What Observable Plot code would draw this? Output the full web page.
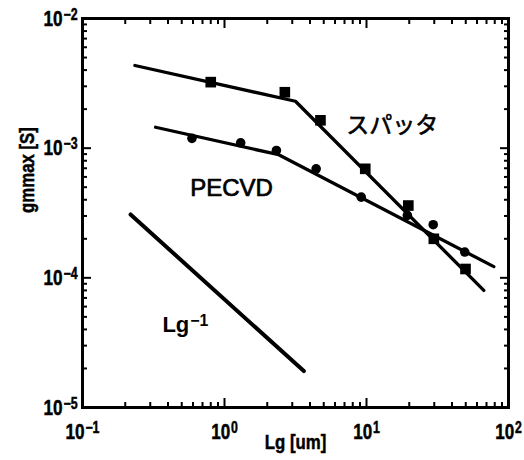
<!DOCTYPE html>
<html>
<head>
<meta charset="utf-8">
<script src="https://cdn.jsdelivr.net/npm/d3@7"></script>
<script src="https://cdn.jsdelivr.net/npm/@observablehq/plot@0.6"></script>
<style>
  html, body { margin: 0; padding: 0; background: #fff; }
</style>
</head>
<body>
<div id="chart"></div>
<script>
// ---- data ----
const sputterLg   = [0.8, 2.66, 4.74, 9.8, 19.7, 29.8, 49.8];
const sputterGm   = [3.23e-3, 2.70e-3, 1.64e-3, 6.93e-4, 3.61e-4, 2.0e-4, 1.17e-4];
const pecvdLg     = [0.59, 1.30, 2.32, 4.42, 9.18, 19.4, 29.5, 49.2];
const pecvdGm     = [1.19e-3, 1.10e-3, 9.6e-4, 6.93e-4, 4.19e-4, 3.03e-4, 2.57e-4, 1.58e-4];
const sputterFitLg = [0.234, 3.16, 67];
const sputterFitGm = [4.34e-3, 2.30e-3, 8.0e-5];
const pecvdFitLg   = [0.327, 2.41, 78.8];
const pecvdFitGm   = [1.45e-3, 8.9e-4, 1.22e-4];
const refLineLg    = [0.218, 3.62];
const refLineGm    = [3.08e-4, 1.91e-5];
const labelText = ["スパッタ", "PECVD", "Lg^-1"];
const labelLg   = [15.2, 1.12, 0.53];
const labelGm   = [1.50e-3, 4.89e-4, 4.30e-5];
const xMajor = [0.1, 1, 10, 100];
const xMajorLabels = ["10^-1", "10^0", "10^1", "10^2"];
const yMajor = [1e-5, 1e-4, 1e-3, 1e-2];
const yMajorLabels = ["10^-5", "10^-4", "10^-3", "10^-2"];
const minorMult = [2, 3, 4, 5, 6, 7, 8, 9];
const xMinor = [0.1, 1, 10].flatMap(d => minorMult.map(m => d * m));
const yMinor = [1e-5, 1e-4, 1e-3].flatMap(d => minorMult.map(m => d * m));

const zip = (xs, ys) => xs.map((x, i) => ({x, y: ys[i]}));
const sputter = zip(sputterLg, sputterGm);
const pecvd = zip(pecvdLg, pecvdGm);
const sputterFit = zip(sputterFitLg, sputterFitGm);
const pecvdFit = zip(pecvdFitLg, pecvdFitGm);
const refLine = zip(refLineLg, refLineGm);
const labels = labelText.map((t, i) => ({t, x: labelLg[i], y: labelGm[i]}));

const nearestIndex = (arr, d) => {
  let best = 0;
  arr.forEach((v, i) => { if (Math.abs(Math.log10(v) - Math.log10(d)) < Math.abs(Math.log10(arr[best]) - Math.log10(d))) best = i; });
  return best;
};
const xFmt = d => xMajorLabels[nearestIndex(xMajor, d)];
const yFmt = d => yMajorLabels[nearestIndex(yMajor, d)];

const axisFont = "'Liberation Sans', Arial, sans-serif";

const chart = Plot.plot({
  width: 524,
  height: 460,
  marginLeft: 82,
  marginRight: 16,
  marginTop: 18,
  marginBottom: 53,
  style: {background: "white", color: "black", fontFamily: axisFont, fontSize: "22px", fontWeight: "bold"},
  x: {type: "log", domain: [0.1, 100]},
  y: {type: "log", domain: [1e-5, 1e-2]},
  marks: [
    // axes (inward ticks)
    Plot.axisX({anchor: "bottom", ticks: xMajor, tickSize: -9, tickPadding: 25, strokeWidth: 2,
      tickFormat: xFmt, label: null}),
    Plot.axisX({anchor: "bottom", ticks: xMinor, tickSize: -5, strokeWidth: 2, fill: "none", label: null}),
    Plot.axisX({anchor: "top", ticks: xMajor, tickSize: -9, strokeWidth: 2, fill: "none", label: null}),
    Plot.axisX({anchor: "top", ticks: xMinor, tickSize: -5, strokeWidth: 2, fill: "none", label: null}),
    Plot.axisY({anchor: "left", ticks: yMajor, tickSize: -9, tickPadding: 14, strokeWidth: 2,
      textAnchor: "end", tickFormat: yFmt, label: null}),
    Plot.axisY({anchor: "left", ticks: yMinor, tickSize: -5, strokeWidth: 2, fill: "none", label: null}),
    Plot.axisY({anchor: "right", ticks: yMajor, tickSize: -9, strokeWidth: 2, fill: "none", label: null}),
    Plot.axisY({anchor: "right", ticks: yMinor, tickSize: -5, strokeWidth: 2, fill: "none", label: null}),
    Plot.frame({stroke: "black", strokeWidth: 3}),
    // axis titles
    Plot.text(["Lg [um]"], {frameAnchor: "bottom", dy: 41, fontSize: 21, fontWeight: "bold", fontFamily: axisFont}),
    Plot.text(["gmmax [S]"], {frameAnchor: "left", dx: -55, rotate: -90, fontSize: 21, fontWeight: "bold", fontFamily: axisFont}),
    // fit lines
    Plot.line(sputterFit, {x: "x", y: "y", stroke: "black", strokeWidth: 3.3}),
    Plot.line(pecvdFit, {x: "x", y: "y", stroke: "black", strokeWidth: 3.3}),
    Plot.line(refLine, {x: "x", y: "y", stroke: "black", strokeWidth: 4}),
    // markers
    Plot.dot(sputter, {x: "x", y: "y", symbol: "square", r: 6, fill: "black", stroke: "none"}),
    Plot.dot(pecvd, {x: "x", y: "y", symbol: "circle", r: 4.8, fill: "black", stroke: "none"}),
    // annotations
    Plot.text(labels.slice(0, 1), {x: "x", y: "y", text: "t", fontSize: 23, fontWeight: "normal",
      fontFamily: "'Noto Sans CJK JP', sans-serif", fill: "black", stroke: "black", strokeWidth: 0.6}),
    Plot.text(labels.slice(1, 2), {x: "x", y: "y", text: "t", fontSize: 24, fontWeight: "normal",
      fontFamily: "'Liberation Sans', Arial, sans-serif", fill: "black", stroke: "black", strokeWidth: 0.7}),
    Plot.text(labels.slice(2, 3), {x: "x", y: "y", text: "t", fontSize: 22, fontWeight: "bold",
      fontFamily: "'Liberation Sans', Arial, sans-serif", fill: "black"})
  ]
});

// render superscripts (base^exp)
d3.select(chart).selectAll("text").each(function () {
  const s = d3.select(this);
  const txt = s.text();
  const m = /^(.+?)\^(-?\d+)$/.exec(txt);
  if (!m) return;
  s.text(null).classed("pow", /^\d+$/.test(m[1]));
  s.append("tspan").text(m[1]);
  s.append("tspan").attr("dx", 1).attr("baseline-shift", "38%").attr("font-size", "72%").text(m[2].replace("-", "−"));
});

document.getElementById("chart").appendChild(chart);

// narrow the bold axis font (reference uses a condensed gothic face) and thicken strokes
d3.select(chart).selectAll("text").each(function () {
  const t = this.textContent;
  if (this.classList.contains("pow") || t === "Lg [um]" || t === "gmmax [S]") {
    const len = this.getComputedTextLength();
    this.setAttribute("textLength", (len * 0.8).toFixed(1));
    this.setAttribute("lengthAdjust", "spacingAndGlyphs");
    this.setAttribute("stroke", "black");
    this.setAttribute("stroke-width", "0.5");
  }
});
</script>
</body>
</html>
